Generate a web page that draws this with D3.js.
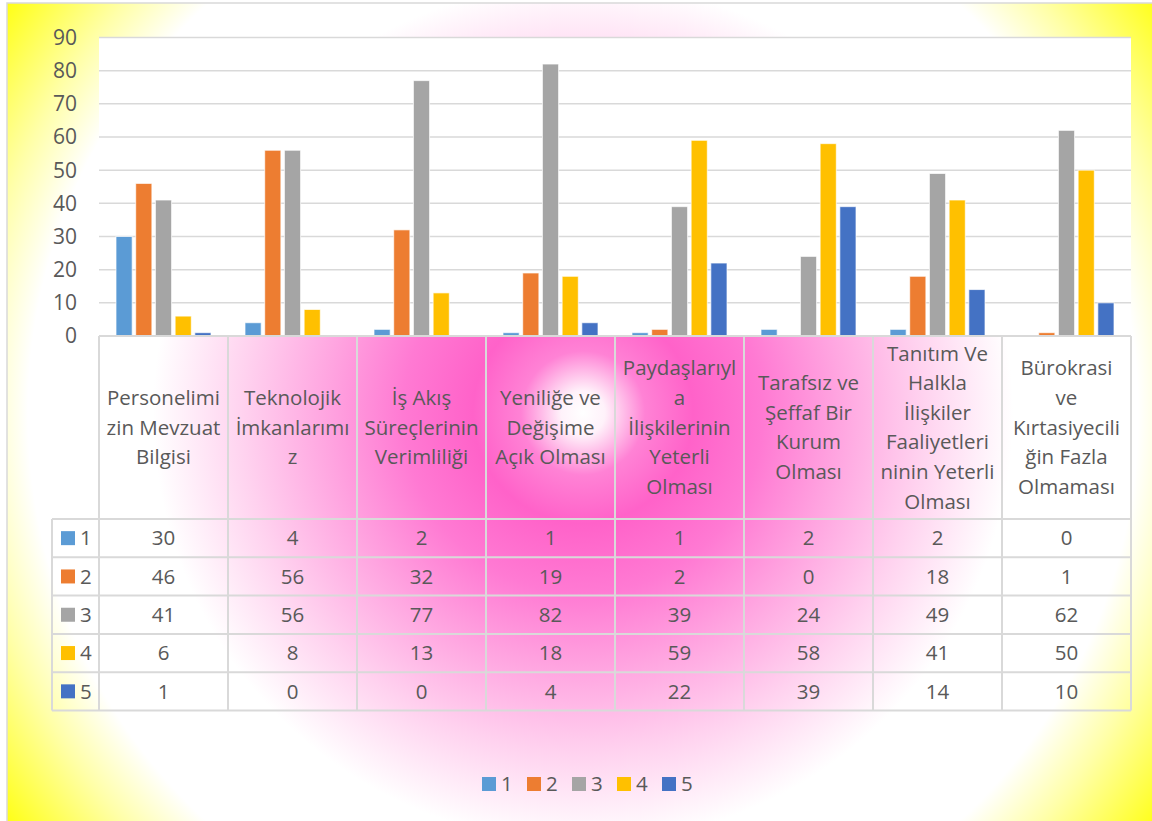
<!DOCTYPE html>
<html>
<head>
<meta charset="utf-8">
<script src="https://cdn.jsdelivr.net/npm/d3@7"></script>
<style>
  body { margin: 0; background: #fff; }
  text { font-family: "Open Sans", sans-serif; fill: #595959; }
</style>
</head>
<body>
<div id="chart"></div>
<script>
// categories, already wrapped the way the table header shows them
var categories = [
  ["Personelimi", "zin Mevzuat", "Bilgisi"],
  ["Teknolojik", "İmkanlarımı", "z"],
  ["İş Akış", "Süreçlerinin", "Verimliliği"],
  ["Yeniliğe ve", "Değişime", "Açık Olması"],
  ["Paydaşlarıyl", "a", "İlişkilerinin", "Yeterli", "Olması"],
  ["Tarafsız ve", "Şeffaf Bir", "Kurum", "Olması"],
  ["Tanıtım Ve", "Halkla", "İlişkiler", "Faaliyetleri", "ninin Yeterli", "Olması"],
  ["Bürokrasi", "ve", "Kırtasiyecili", "ğin Fazla", "Olmaması"]
];
var seriesNames = ["1", "2", "3", "4", "5"];
var seriesColors = ["#5b9bd5", "#ed7d31", "#a5a5a5", "#ffc000", "#4472c4"];
var s1 = [30, 4, 2, 1, 1, 2, 2, 0];
var s2 = [46, 56, 32, 19, 2, 0, 18, 1];
var s3 = [41, 56, 77, 82, 39, 24, 49, 62];
var s4 = [6, 8, 13, 18, 59, 58, 41, 50];
var s5 = [1, 0, 0, 4, 22, 39, 14, 10];
var yTicks = [0, 10, 20, 30, 40, 50, 60, 70, 80, 90];

var allSeries = [s1, s2, s3, s4, s5];

var width = 1152, height = 821;
var plotLeft = 99, plotRight = 1131, plotTop = 37.5, base = 336;
var headBottom = 519, rowH = 38.3, keyLeft = 52;
var gridCol = "#d9d9d9";

var svg = d3.select("#chart").append("svg")
  .attr("width", width).attr("height", height);

// background: path style gradient, white glow -> hot pink -> white -> yellow
var defs = svg.append("defs");
var cx = 583, cy = 413, R = 720;
var grad = defs.append("radialGradient").attr("id", "bg")
  .attr("gradientUnits", "userSpaceOnUse")
  .attr("cx", cx).attr("cy", cy).attr("r", R);
[[0, "#ffffff"], [22, "#fff2fa"], [62, "#ff82d5"], [110, "#ff62c9"],
 [180, "#ff7ad3"], [255, "#ffa4e0"], [340, "#ffd2ef"], [430, "#ffffff"],
 [555, "#ffffff"], [615, "#ffffa8"], [720, "#ffff00"]]
  .forEach(function(s) {
    grad.append("stop").attr("offset", s[0] / R).attr("stop-color", s[1]);
  });

svg.append("rect").attr("x", 7).attr("y", 3)
  .attr("width", 1160).attr("height", 830)
  .attr("fill", "url(#bg)").attr("stroke", gridCol).attr("stroke-width", 1.5);

// plot area
svg.append("rect").attr("x", plotLeft).attr("y", plotTop)
  .attr("width", plotRight - plotLeft).attr("height", base - plotTop)
  .attr("fill", "#fff");

var y = d3.scaleLinear().domain([0, 90]).range([base, plotTop]);
var x0 = d3.scaleBand().domain(d3.range(categories.length)).range([plotLeft, plotRight]);
var x1 = d3.scaleBand().domain(seriesNames).range([17, 112]).paddingInner(0.18);

// gridlines
svg.append("g").selectAll("line").data(yTicks.filter(function(d) { return d > 0; }))
  .enter().append("line")
  .attr("x1", plotLeft).attr("x2", plotRight)
  .attr("y1", function(d) { return y(d); }).attr("y2", function(d) { return y(d); })
  .attr("stroke", gridCol).attr("stroke-width", 1.5);

// y labels
svg.append("g").selectAll("text").data(yTicks).enter().append("text")
  .attr("x", 77).attr("y", function(d) { return y(d); })
  .attr("dy", "0.35em").attr("text-anchor", "end")
  .style("font-size", "21px")
  .text(function(d) { return d; });

// bars
var groups = svg.append("g").selectAll("g").data(categories).enter().append("g")
  .attr("transform", function(d, i) { return "translate(" + x0(i) + ",0)"; });

groups.selectAll("rect")
  .data(function(d, i) {
    return allSeries.map(function(s, k) { return { key: seriesNames[k], k: k, v: s[i] }; })
      .filter(function(e) { return e.v > 0; });
  })
  .enter().append("rect")
  .attr("x", function(d) { return x1(d.key); })
  .attr("width", x1.bandwidth())
  .attr("y", function(d) { return y(d.v); })
  .attr("height", function(d) { return base - y(d.v); })
  .attr("fill", function(d) { return seriesColors[d.k]; })
  .attr("stroke", "#fff").attr("stroke-opacity", 0.7).attr("stroke-width", 1);

// data table: header labels
var lineH = 29.6;
var headMid = (base + headBottom) / 2;
categories.forEach(function(lines, i) {
  var cxCol = x0(i) + x0.bandwidth() / 2;
  var t = svg.append("text").attr("text-anchor", "middle").style("font-size", "20.5px");
  lines.forEach(function(l, j) {
    t.append("tspan").attr("x", cxCol)
      .attr("y", headMid + (j - (lines.length - 1) / 2) * lineH)
      .attr("dy", "0.35em").text(l);
  });
});

// data table: values and legend keys
allSeries.forEach(function(s, k) {
  var ry = headBottom + rowH * k + rowH / 2;
  svg.append("rect").attr("x", 61).attr("y", ry - 7)
    .attr("width", 14).attr("height", 14).attr("fill", seriesColors[k]);
  svg.append("text").attr("x", 80).attr("y", ry).attr("dy", "0.35em")
    .style("font-size", "20.5px").text(seriesNames[k]);
  s.forEach(function(v, i) {
    svg.append("text").attr("x", x0(i) + x0.bandwidth() / 2).attr("y", ry)
      .attr("dy", "0.35em").attr("text-anchor", "middle")
      .style("font-size", "20.5px").text(v);
  });
});

// table grid
var tbl = svg.append("g").attr("stroke", gridCol).attr("stroke-width", 2);
var tableBottom = headBottom + rowH * allSeries.length;
tbl.append("line").attr("x1", plotLeft).attr("x2", plotRight).attr("y1", base).attr("y2", base);
d3.range(allSeries.length + 1).forEach(function(r) {
  var yy = headBottom + rowH * r;
  tbl.append("line").attr("x1", keyLeft).attr("x2", plotRight).attr("y1", yy).attr("y2", yy);
});
tbl.append("line").attr("x1", keyLeft).attr("x2", keyLeft)
  .attr("y1", headBottom).attr("y2", tableBottom);
d3.range(categories.length + 1).forEach(function(c) {
  var xx = c < categories.length ? x0(c) : plotRight;
  tbl.append("line").attr("x1", xx).attr("x2", xx).attr("y1", base).attr("y2", tableBottom);
});

// legend
var legend = svg.append("g").selectAll("g").data(seriesNames).enter().append("g")
  .attr("transform", function(d, i) { return "translate(" + (482 + i * 45) + ",784)"; });
legend.append("rect").attr("x", 0).attr("y", -7).attr("width", 14).attr("height", 14)
  .attr("fill", function(d, i) { return seriesColors[i]; });
legend.append("text").attr("x", 19).attr("dy", "0.35em")
  .style("font-size", "20.5px").text(function(d) { return d; });
</script>
</body>
</html>
